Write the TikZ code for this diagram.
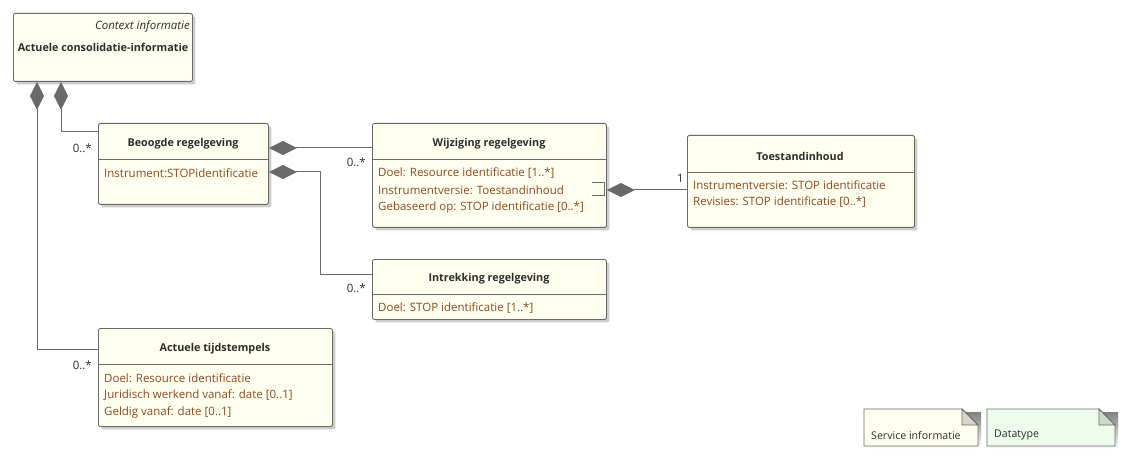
\documentclass[tikz,border=0pt]{standalone}
\usepackage{fontspec}
\setmainfont{Open Sans}
\usetikzlibrary{arrows.meta,shadows}
\definecolor{boxfill}{RGB}{255,255,240}
\definecolor{dtfill}{RGB}{238,252,238}
\definecolor{border}{RGB}{105,105,105}
\definecolor{attr}{RGB}{140,72,35}
\definecolor{ttl}{RGB}{45,45,45}
\definecolor{conn}{RGB}{105,105,105}
\definecolor{foldy}{RGB}{215,215,200}
\definecolor{foldg}{RGB}{200,220,200}
\definecolor{shade}{RGB}{205,205,205}
\tikzset{
  cls/.style={draw=border, fill=boxfill, rounded corners=2pt, line width=0.9pt,
    inner sep=0pt, anchor=north west,
    general shadow={fill=shade, shadow xshift=3pt, shadow yshift=-3pt}},
  ttlt/.style={font=\fontsize{10.8}{13}\selectfont\bfseries, text=ttl, inner sep=0pt},
  attrt/.style={font=\fontsize{11.5}{13}\selectfont, text=attr, inner sep=0pt, anchor=west},
  mult/.style={font=\fontsize{11.5}{13}\selectfont, text=ttl, inner sep=0pt, anchor=east},
  sep/.style={draw=border, line width=0.9pt},
  comp/.style={draw=conn, line width=1pt, {Diamond[length=28pt 0,width=14pt 0]}-},
  plain/.style={draw=conn, line width=1pt},
  notet/.style={font=\fontsize{10.6}{12}\selectfont, text=ttl, inner sep=0pt, anchor=west}
}
\begin{document}
\begin{tikzpicture}[x=1pt,y=-1pt]
\useasboundingbox (0,0) rectangle (1131,462);

% Context box
\node[cls, minimum width=179pt, minimum height=68pt] (ctx) at (13,13) {};
\node[font=\fontsize{11.5}{13}\selectfont\itshape, text=ttl, inner sep=0pt, anchor=east] (ctxs) at (190,26) {Context informatie};
\node[ttlt] (ctxt) at (103,47) {Actuele consolidatie-informatie};

% Beoogde regelgeving
\node[cls, minimum width=170pt, minimum height=81pt] (beo) at (98,123) {};
\draw[sep] (98,159) -- (268,159);
\node[ttlt] (beot) at (183,144) {Beoogde regelgeving};
\node[attrt] (beoa) at (104,173) {Instrument:STOPidentificatie};

% Wijziging regelgeving
\node[cls, minimum width=234pt, minimum height=104pt] (wij) at (372,123) {};
\draw[sep] (372,159) -- (606,159);
\node[ttlt] (wijt) at (489,144) {Wijziging regelgeving};
\node[attrt] (wija) at (378,173) {Doel: Resource identificatie [1..*]};
\node[attrt] (wijb) at (378,190) {Instrumentversie: Toestandinhoud};
\node[attrt] (wijc) at (378,207) {Gebaseerd op: STOP identificatie [0..*]};

% Toestandinhoud
\node[cls, minimum width=227pt, minimum height=92pt] (toe) at (687,135) {};
\draw[sep] (687,172) -- (914,172);
\node[ttlt] (toet) at (800,156) {Toestandinhoud};
\node[attrt] (toea) at (693,185) {Instrumentversie: STOP identificatie};
\node[attrt] (toeb) at (693,202) {Revisies: STOP identificatie [0..*]};

% Intrekking regelgeving
\node[cls, minimum width=234pt, minimum height=60pt] (int) at (372,259) {};
\draw[sep] (372,294) -- (606,294);
\node[ttlt] (intt) at (489,279) {Intrekking regelgeving};
\node[attrt] (inta) at (378,308) {Doel: STOP identificatie [1..*]};

% Actuele tijdstempels
\node[cls, minimum width=234pt, minimum height=98pt] (tijd) at (98,328) {};
\draw[sep] (98,364) -- (332,364);
\node[ttlt] (tijdt) at (215,349) {Actuele tijdstempels};
\node[attrt] (tijda) at (104,378) {Doel: Resource identificatie};
\node[attrt] (tijdb) at (104,395) {Juridisch werkend vanaf: date [0..1]};
\node[attrt] (tijdc) at (104,412) {Geldig vanaf: date [0..1]};

% Connectors
\draw[comp] ([xshift=24pt]ctx.south west) |- ([yshift=-21pt]tijd.north west);
\draw[comp] ([xshift=48pt]ctx.south west) |- ([yshift=-9pt]beo.north west);
\draw[comp] ([yshift=-25pt]beo.north east) -- ([yshift=-25pt]wij.north west);
\draw[comp] ([yshift=-49pt]beo.north east) -- ++(52,0) |- ([yshift=-15pt]int.north west);
\draw[comp] ([yshift=-67pt]wij.north east) -- ([yshift=-55pt]toe.north west);
\draw[plain] ([xshift=-15pt,yshift=-60pt]wij.north east) -- ++(13,0) -- ++(0,13) -- ++(-13,0);

% Multiplicities
\node[mult] (m1) at (92,148) {0..*};
\node[mult] (m2) at (92,365) {0..*};
\node[mult] (m3) at (366,162) {0..*};
\node[mult] (m4) at (366,288) {0..*};
\node[mult] (m5) at (684,178) {1};

% Legend notes
\fill[shade] (867,412) -- (981,412) -- (981,449) -- (867,449) -- cycle;
\draw[draw=border, fill=boxfill, line width=0.8pt] (864,409) -- (962,409) -- (978,425) -- (978,446) -- (864,446) -- cycle;
\draw[draw=border, fill=foldy, line width=0.8pt] (962,409) -- (962,425) -- (978,425) -- cycle;
\node[notet] (n1) at (871,435) {Service informatie};

\fill[shade] (990,412) -- (1118,412) -- (1118,449) -- (990,449) -- cycle;
\draw[draw=border, fill=dtfill, line width=0.8pt] (987,409) -- (1099,409) -- (1115,425) -- (1115,446) -- (987,446) -- cycle;
\draw[draw=border, fill=foldg, line width=0.8pt] (1099,409) -- (1099,425) -- (1115,425) -- cycle;
\node[notet] (n2) at (994,435) {Datatype};
\end{tikzpicture}
\end{document}
